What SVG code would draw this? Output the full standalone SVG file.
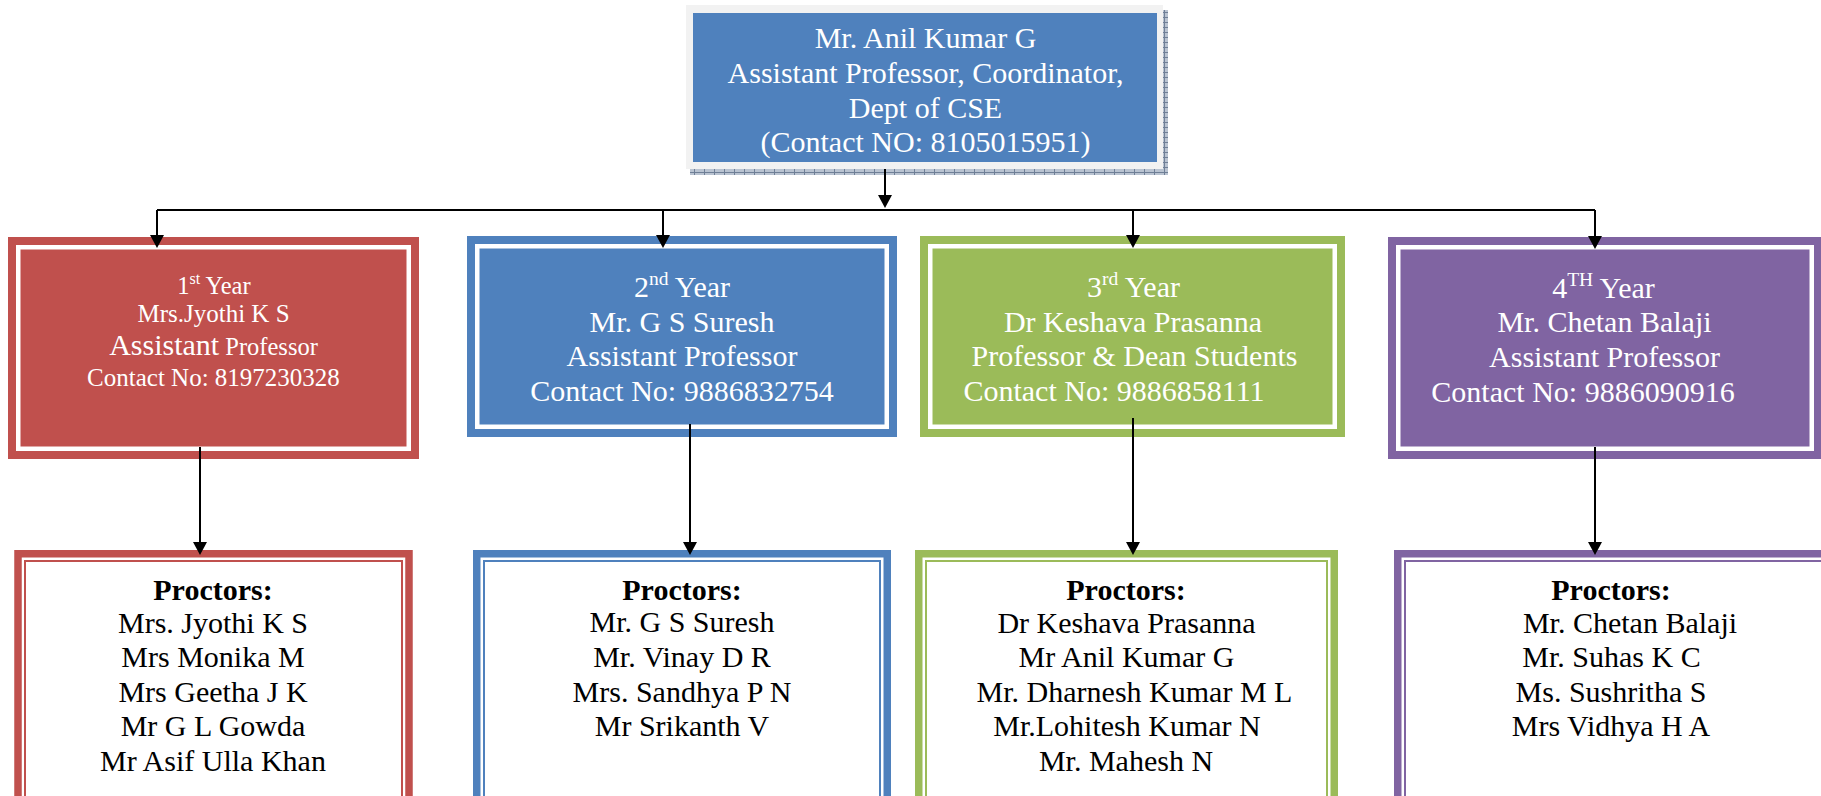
<svg xmlns="http://www.w3.org/2000/svg" width="1821" height="796" viewBox="0 0 1821 796">
<defs>
<pattern id="shadowPat" width="10" height="5" patternUnits="userSpaceOnUse">
<rect width="10" height="5" fill="#b9c3d1"/>
<rect x="0" y="2" width="10" height="1" fill="#6f7f96"/>
<rect x="4" y="0" width="1" height="5" fill="#6f7f96"/>
</pattern>
<style>
.t{font-family:"Liberation Serif","Times New Roman",serif;fill:#ffffff;text-anchor:middle;}
.p{font-family:"Liberation Serif","Times New Roman",serif;fill:#000000;text-anchor:middle;font-size:30px;}
.pb{font-weight:bold;}
.ln{stroke:#000;stroke-width:2;fill:none;}
.ah{fill:#000;}
.wl{fill:none;stroke:#ffffff;stroke-width:4.5;}
</style>
</defs>
<rect width="1821" height="796" fill="#ffffff"/>

<g id="coordinator">
<rect x="690" y="10" width="478" height="165" fill="url(#shadowPat)"/>
<rect x="686" y="5" width="477" height="164" fill="#f2f2f2"/>
<rect x="693" y="13" width="464" height="149" fill="#4f81bd"/>
<text class="t" font-size="30" x="925.5" y="48">Mr. Anil Kumar G</text>
<text class="t" font-size="30" x="925.5" y="82.5">Assistant Professor, Coordinator,</text>
<text class="t" font-size="30" x="925.5" y="117.5">Dept of CSE</text>
<text class="t" font-size="30" x="925.5" y="152">(Contact NO: 8105015951)</text>
</g>

<g id="year1">
<rect x="8" y="237" width="411" height="222" fill="#c0504d"/>
<rect class="wl" x="18.25" y="247.25" width="390.5" height="201.5"/>
<text class="t" font-size="24.5" x="214" y="294">1<tspan font-size="16" dy="-10">st</tspan><tspan dy="10"> Year</tspan></text>
<text class="t" font-size="25" x="213.5" y="322">Mrs.Jyothi K S</text>
<text class="t" x="213.5" y="355"><tspan font-size="30">Assistant</tspan><tspan font-size="24.5"> Professor</tspan></text>
<text class="t" font-size="25" x="213.5" y="386">Contact No: 8197230328</text>
</g>

<g id="year2">
<rect x="467" y="236" width="430" height="201" fill="#4f81bd"/>
<rect class="wl" x="477.25" y="246.25" width="409.5" height="180.5"/>
<text class="t" font-size="30" x="682" y="297">2<tspan font-size="19.5" dy="-12">nd</tspan><tspan dy="12"> Year</tspan></text>
<text class="t" font-size="30" x="682" y="331.5">Mr. G S Suresh</text>
<text class="t" font-size="30" x="682" y="366">Assistant Professor</text>
<text class="t" font-size="30" x="682" y="401">Contact No: 9886832754</text>
</g>

<g id="year3">
<rect x="920" y="236" width="425" height="201" fill="#9bbb59"/>
<rect class="wl" x="930.25" y="246.25" width="404.5" height="180.5"/>
<text class="t" font-size="30" x="1133.5" y="297">3<tspan font-size="19.5" dy="-12">rd</tspan><tspan dy="12"> Year</tspan></text>
<text class="t" font-size="30" x="1133" y="331.5">Dr Keshava Prasanna</text>
<text class="t" font-size="30" x="1134.5" y="366">Professor &amp; Dean Students</text>
<text class="t" font-size="30" x="1114" y="401">Contact No: 9886858111</text>
</g>

<g id="year4">
<rect x="1388" y="237" width="445" height="222" fill="#8064a2"/>
<rect class="wl" x="1398.25" y="247.25" width="413.5" height="201.5"/>
<text class="t" font-size="30" x="1603.5" y="298">4<tspan font-size="19.5" dy="-12">TH</tspan><tspan dy="12"> Year</tspan></text>
<text class="t" font-size="30" x="1604.5" y="332">Mr. Chetan Balaji</text>
<text class="t" font-size="30" x="1604.5" y="367">Assistant Professor</text>
<text class="t" font-size="30" x="1583" y="402">Contact No: 9886090916</text>
</g>

<g id="proctors1">
<rect x="18" y="553.75" width="391" height="250" fill="#ffffff" stroke="#c0504d" stroke-width="7.5"/>
<rect x="25" y="561" width="377" height="250" fill="none" stroke="#c0504d" stroke-width="2"/>
<text class="p pb" x="213" y="600">Proctors:</text>
<text class="p" x="213" y="633">Mrs. Jyothi K S</text>
<text class="p" x="213" y="667">Mrs Monika M</text>
<text class="p" x="213" y="702">Mrs Geetha J K</text>
<text class="p" x="213" y="736">Mr G L Gowda</text>
<text class="p" x="213" y="771">Mr Asif Ulla Khan</text>
</g>

<g id="proctors2">
<rect x="476.75" y="553.75" width="410.5" height="250" fill="#ffffff" stroke="#4f81bd" stroke-width="7.5"/>
<rect x="484" y="561" width="396" height="250" fill="none" stroke="#4f81bd" stroke-width="2"/>
<text class="p pb" x="682" y="600">Proctors:</text>
<text class="p" x="682" y="632">Mr. G S Suresh</text>
<text class="p" x="682" y="667">Mr. Vinay D R</text>
<text class="p" x="682" y="702">Mrs. Sandhya P N</text>
<text class="p" x="682" y="736">Mr Srikanth V</text>
</g>

<g id="proctors3">
<rect x="918.75" y="553.75" width="415.5" height="250" fill="#ffffff" stroke="#9bbb59" stroke-width="7.5"/>
<rect x="926" y="561" width="401" height="250" fill="none" stroke="#9bbb59" stroke-width="2"/>
<text class="p pb" x="1126" y="600">Proctors:</text>
<text class="p" x="1126.5" y="633">Dr Keshava Prasanna</text>
<text class="p" x="1126.5" y="667">Mr Anil Kumar G</text>
<text class="p" x="1134.5" y="702">Mr. Dharnesh Kumar M L</text>
<text class="p" x="1127" y="736">Mr.Lohitesh Kumar N</text>
<text class="p" x="1126" y="771">Mr. Mahesh N</text>
</g>

<g id="proctors4">
<rect x="1397.75" y="553.75" width="440" height="250" fill="#ffffff" stroke="#8064a2" stroke-width="7.5"/>
<rect x="1405" y="561" width="426" height="250" fill="none" stroke="#8064a2" stroke-width="2"/>
<text class="p pb" x="1611" y="600">Proctors:</text>
<text class="p" x="1630" y="633">Mr. Chetan Balaji</text>
<text class="p" x="1611.5" y="667">Mr. Suhas K C</text>
<text class="p" x="1611" y="702">Ms. Sushritha S</text>
<text class="p" x="1611" y="736">Mrs Vidhya H A</text>
</g>

<g id="connectors">
<path class="ln" d="M885 169 V196"/>
<polygon class="ah" points="878,195 892,195 885,208"/>
<path class="ln" d="M157 210 H1595"/>
<path class="ln" d="M157 210 V236"/>
<polygon class="ah" points="150,235 164,235 157,248"/>
<path class="ln" d="M663 210 V236"/>
<polygon class="ah" points="656,235 670,235 663,248"/>
<path class="ln" d="M1133 210 V236"/>
<polygon class="ah" points="1126,235 1140,235 1133,248"/>
<path class="ln" d="M1595 210 V237"/>
<polygon class="ah" points="1588,236 1602,236 1595,249"/>
<path class="ln" d="M200 447 V543"/>
<polygon class="ah" points="193,542 207,542 200,555"/>
<path class="ln" d="M690 424 V543"/>
<polygon class="ah" points="683,542 697,542 690,555"/>
<path class="ln" d="M1133 418 V543"/>
<polygon class="ah" points="1126,542 1140,542 1133,555"/>
<path class="ln" d="M1595 447 V543"/>
<polygon class="ah" points="1588,542 1602,542 1595,555"/>
</g>
</svg>
